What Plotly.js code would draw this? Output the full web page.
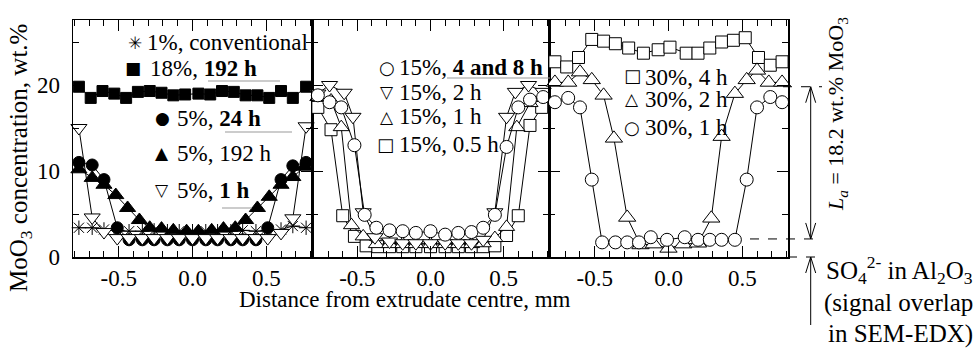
<!DOCTYPE html>
<html><head><meta charset="utf-8">
<script src="https://cdn.plot.ly/plotly-3.0.1.min.js"></script>
<style>html,body{margin:0;padding:0;background:#fff}#chart{width:978px;height:351px}</style>
</head><body><div id="chart"></div>
<script>
// ---------- Panel 1 (5 % / 18 % / 1 %) ----------
const p1_conv_x = [-0.77,-0.68,-0.6,-0.51,-0.43,-0.34,-0.26,-0.17,-0.09,0,0.09,0.17,0.26,0.34,0.43,0.51,0.6,0.68,0.77];
const p1_conv_y = [3.4,3.4,3.2,3.1,3.0,3.0,3.1,3.0,3.0,3.0,3.0,3.0,3.0,3.1,3.0,3.1,3.2,3.6,3.4];
const p1_18_192_x = [-0.77,-0.69,-0.61,-0.53,-0.45,-0.37,-0.29,-0.21,-0.13,-0.05,0.04,0.12,0.2,0.28,0.36,0.44,0.52,0.6,0.68,0.77];
const p1_18_192_y = [19.8,18.5,19.3,19.0,18.5,19.2,19.3,19.1,18.8,18.9,19.0,18.9,19.3,19.2,18.8,18.8,18.5,19.3,18.5,19.8];
const p1_5_24_x = [-0.77,-0.68,-0.6,-0.51,-0.43,-0.34,-0.26,-0.17,-0.09,0,0.09,0.17,0.26,0.34,0.43,0.51,0.6,0.68,0.77];
const p1_5_24_y = [11.0,10.7,9.0,3.4,2.0,2.0,2.0,2.0,2.0,2.0,2.0,2.0,2.0,2.0,2.0,3.4,9.0,10.6,11.0];
const p1_5_192_x = [-0.77,-0.68,-0.6,-0.52,-0.44,-0.36,-0.29,-0.21,-0.13,-0.04,0.04,0.13,0.21,0.29,0.36,0.44,0.52,0.6,0.68,0.76];
const p1_5_192_y = [10.2,9.2,8.4,7.2,5.7,4.3,3.4,3.3,3.1,3.0,3.0,3.1,3.3,3.4,4.3,5.7,7.0,8.4,9.3,10.5];
const p1_5_1_x = [-0.77,-0.68,-0.6,-0.51,-0.43,-0.34,-0.26,-0.17,-0.09,0,0.09,0.17,0.26,0.34,0.43,0.51,0.6,0.68,0.77];
const p1_5_1_y = [15.0,4.6,2.9,2.2,2.2,2.2,2.2,2.2,2.2,2.2,2.2,2.2,2.2,2.2,2.2,2.2,2.8,4.5,15.2];

// ---------- Panel 2 (15 %) ----------
const p2_05_x = [-0.77,-0.68,-0.6,-0.52,-0.44,-0.36,-0.28,-0.19,-0.1,0,0.1,0.19,0.28,0.36,0.44,0.52,0.6,0.68,0.76];
const p2_05_y = [17.4,14.8,4.8,2.4,1.3,1.2,1.2,1.2,1.2,1.2,1.2,1.2,1.2,1.2,1.3,2.5,4.8,15.3,17.4];
const p2_1_x = [-0.77,-0.68,-0.61,-0.54,-0.46,-0.37,-0.28,-0.19,-0.1,0,0.1,0.19,0.28,0.36,0.44,0.52,0.59,0.68,0.76];
const p2_1_y = [18.6,18.2,15.1,3.7,2.4,1.5,1.5,1.5,1.5,1.5,1.5,1.5,1.5,1.6,2.2,3.5,15.1,17.9,18.5];
const p2_2_x = [-0.77,-0.69,-0.59,-0.53,-0.46,-0.38,-0.28,-0.19,-0.1,0,0.1,0.19,0.28,0.36,0.44,0.52,0.58,0.67,0.77];
const p2_2_y = [19.0,20.0,19.1,16.3,5.2,2.3,1.8,1.6,1.6,1.6,1.6,1.6,1.6,2.0,5.2,16.3,19.2,20.0,19.2];
const p2_48_x = [-0.77,-0.69,-0.61,-0.52,-0.45,-0.37,-0.28,-0.19,-0.1,0,0.1,0.19,0.28,0.36,0.44,0.52,0.6,0.68,0.77];
const p2_48_y = [18.8,18.0,17.4,13.0,4.9,3.4,3.1,3.0,2.8,3.0,2.6,2.8,2.9,3.4,4.9,12.8,17.4,18.3,18.6];

// ---------- Panel 3 (30 %) ----------
const p3_4_x = [-0.77,-0.69,-0.61,-0.52,-0.44,-0.36,-0.27,-0.17,-0.07,0.01,0.12,0.2,0.28,0.36,0.44,0.52,0.61,0.69,0.77];
const p3_4_y = [22.7,22.1,23.2,25.3,25.1,24.8,24.3,23.7,24.1,24.4,23.7,23.7,24.3,25.0,25.2,25.5,23.2,22.3,22.7];
const p3_2_x = [-0.77,-0.68,-0.6,-0.52,-0.44,-0.37,-0.28,-0.19,-0.1,0,0.1,0.2,0.29,0.36,0.45,0.53,0.6,0.68,0.77];
const p3_2_y = [20.3,20.3,21.5,20.6,18.8,13.8,4.6,1.4,1.5,1.0,1.5,1.6,4.5,14.0,19.0,20.6,21.7,20.3,20.3];
const p3_1_x = [-0.77,-0.68,-0.6,-0.52,-0.45,-0.36,-0.28,-0.2,-0.12,-0.01,0.11,0.2,0.28,0.36,0.45,0.53,0.6,0.69,0.77];
const p3_1_y = [18.0,18.5,17.4,9.0,1.7,1.7,1.7,1.7,2.3,2.0,2.3,2.0,2.0,2.0,2.0,9.0,17.4,18.6,18.0];

// ---------- axis ticks / labels ----------
const xTickVals = [-0.5, 0, 0.5];
const xTickText = ['-0.5', '0.0', '0.5'];
const yTickVals = [0, 10, 20];
const yTickText = ['0', '10', '20'];
const laLevels = [2.1, 19.8];  // bounds of the L_a bracket (wt.%)

const W = 978, H = 351;
const fx = p => p / W, fy = p => 1 - p / H;
const FONT = '"Liberation Serif", "Times New Roman", serif';

function tr(x, y, ax, symbol, size, fill) {
  return {type:'scatter', mode:'lines+markers', x:x, y:y, xaxis:'x'+ax, yaxis:'y'+ax,
    cliponaxis:false, showlegend:false, hoverinfo:'skip',
    line:{color:'black', width:1},
    marker:{symbol:symbol, size:size, color:fill, line:{color:'black', width:1}}};
}
const data = [
  tr(p1_conv_x, p1_conv_y, '', 'asterisk-open', 12, 'black'),
  tr(p1_18_192_x, p1_18_192_y, '', 'square', 11, 'black'),
  tr(p1_5_24_x, p1_5_24_y, '', 'circle', 12, 'black'),
  tr(p1_5_192_x, p1_5_192_y, '', 'triangle-up', 14, 'black'),
  tr(p1_5_1_x, p1_5_1_y, '', 'triangle-down', 14, 'white'),
  tr(p2_05_x, p2_05_y, '2', 'square', 12, 'white'),
  tr(p2_1_x, p2_1_y, '2', 'triangle-up', 14, 'white'),
  tr(p2_2_x, p2_2_y, '2', 'triangle-down', 14, 'white'),
  tr(p2_48_x, p2_48_y, '2', 'circle', 13, 'white'),
  tr(p3_4_x, p3_4_y, '3', 'square', 12, 'white'),
  tr(p3_2_x, p3_2_y, '3', 'triangle-up', 15, 'white'),
  tr(p3_1_x, p3_1_y, '3', 'circle', 13, 'white')
];

function xax(d0, d1, anchor) {
  return {domain:[fx(d0), fx(d1)], anchor:anchor, range:[-0.81, 0.81], showgrid:false, zeroline:false,
    showline:true, linecolor:'black', linewidth:1.5, mirror:'ticks', ticks:'inside', ticklen:11, tickwidth:1,
    tickcolor:'black', tickmode:'array', tickvals:xTickVals, ticktext:xTickText,
    tickfont:{family:FONT, size:23, color:'black'}, ticklabelstandoff:0,
    minor:{tickmode:'linear', tick0:0, dtick:0.1, ticks:'inside', ticklen:6, tickwidth:1, tickcolor:'black'}};
}
function yax(anchor, labels) {
  return {domain:[fy(257), fy(20)], anchor:anchor, range:[0, 27.56], showgrid:false, zeroline:false,
    showline:true, linecolor:'black', linewidth:1.5, mirror:'ticks', ticks:'inside', ticklen:11, tickwidth:1,
    tickcolor:'black', tickmode:'array', tickvals:yTickVals, ticktext:yTickText, showticklabels:labels,
    tickfont:{family:FONT, size:23, color:'black'}, ticklabelstandoff:7,
    minor:{tickmode:'linear', tick0:0, dtick:5, ticks:'inside', ticklen:6, tickwidth:1, tickcolor:'black'}};
}

const ann = [];
function txt(x, y, s, opts) {
  ann.push(Object.assign({xref:'paper', yref:'paper', x:fx(x), y:fy(y), text:s, showarrow:false,
    xanchor:'left', yanchor:'middle', font:{family:FONT, size:23, color:'black'}}, opts || {}));
}
function sym(x, y, s, size) {
  txt(x, y, s, {xanchor:'center', font:{family:'"DejaVu Sans"', size:size || 16, color:'black'}});
}
// Panel 1 legend
sym(135, 43, '✳', 17); txt(145, 43, '1%, conventional');
sym(133, 68, '■', 17); txt(148, 68, '18%, <b>192 h</b>');
sym(162, 118, '●', 17); txt(175, 118, '5%, <b>24 h</b>');
sym(162, 153, '▲', 17); txt(175, 153, '5%, 192 h');
sym(162, 190, '▽', 17); txt(175, 190, '5%, <b>1 h</b>');
// Panel 2 legend
sym(387, 67, '○', 18); txt(397, 67, '15%, <b>4 and 8 h</b>');
sym(387, 92, '▽', 17); txt(397, 92, '15%, 2 h');
sym(387, 117, '△', 17); txt(397, 117, '15%, 1 h');
sym(385, 145, '□', 18); txt(397, 145, '15%, 0.5 h');
// Panel 3 legend
sym(632, 75, '□', 18); txt(643, 77, '30%, 4 h');
sym(632, 99, '△', 17); txt(643, 100, '30%, 2 h');
sym(632, 127, '○', 18); txt(643, 127, '30%, 1 h');
// axis titles
txt(405, 299, 'Distance from extrudate centre, mm', {xanchor:'center', font:{family:FONT, size:23, color:'black'}});
txt(20, 158, 'MoO<sub>3</sub> concentration, wt.%', {xanchor:'center', textangle:-90, font:{family:FONT, size:25, color:'black'}});
// right-hand annotation
txt(837, 114, '<i>L<sub>a</sub></i> = 18.2 wt.% MoO<sub>3</sub>', {xanchor:'center', textangle:-90, font:{family:FONT, size:22, color:'black'}});
txt(975, 270, 'SO<sub>4</sub><sup>2-</sup> in Al<sub>2</sub>O<sub>3</sub>', {xanchor:'right', font:{family:FONT, size:25, color:'black'}});
txt(975, 303, '(signal overlap', {xanchor:'right', font:{family:FONT, size:25, color:'black'}});
txt(975, 334, 'in SEM-EDX)', {xanchor:'right', font:{family:FONT, size:25, color:'black'}});

const shapes = [];
function seg(x0, y0, x1, y1, o) {
  shapes.push(Object.assign({type:'line', xref:'paper', yref:'paper', x0:fx(x0), y0:fy(y0), x1:fx(x1), y1:fy(y1),
    line:{color:'black', width:1}}, o || {}));
}
// underlines
const grey = {line:{color:'#999', width:1}};
seg(208, 81, 280, 81, grey);
seg(225, 132, 292, 132, grey);
seg(222, 208, 252, 208, grey);
seg(447, 78, 550, 78, grey);
// bracket for L_a : dashed guides at data levels on panel 3 scale
const yPix = v => 257 - v * (237 / 27.56);
const yTop = yPix(laLevels[1]), yBot = yPix(laLevels[0]), y0p = yPix(0);
const dash = {line:{color:'black', width:1, dash:'dash'}};
seg(783, yTop, 822, yTop, dash);
seg(750, yBot, 822, yBot, dash);
seg(788, y0p, 822, y0p, dash);
const ax = 810.7;
seg(ax, yTop, ax, yBot);
seg(ax - 5, yTop + 16, ax, yTop); seg(ax + 5, yTop + 16, ax, yTop);
seg(ax - 5, yBot - 16, ax, yBot); seg(ax + 5, yBot - 16, ax, yBot);
seg(ax, y0p, ax, 325);
seg(ax - 5, y0p + 16, ax, y0p); seg(ax + 5, y0p + 16, ax, y0p);

const layout = {
  width:W, height:H, margin:{l:0, r:0, t:0, b:0}, paper_bgcolor:'white', plot_bgcolor:'white',
  showlegend:false, font:{family:FONT, size:22, color:'black'},
  xaxis:xax(73, 312, 'y'), xaxis2:xax(312, 549, 'y2'), xaxis3:xax(549, 788, 'y3'),
  yaxis:yax('x', true), yaxis2:yax('x2', false), yaxis3:yax('x3', false),
  annotations:ann, shapes:shapes
};
Plotly.newPlot('chart', data, layout, {staticPlot:true, displayModeBar:false});
</script></body></html>
